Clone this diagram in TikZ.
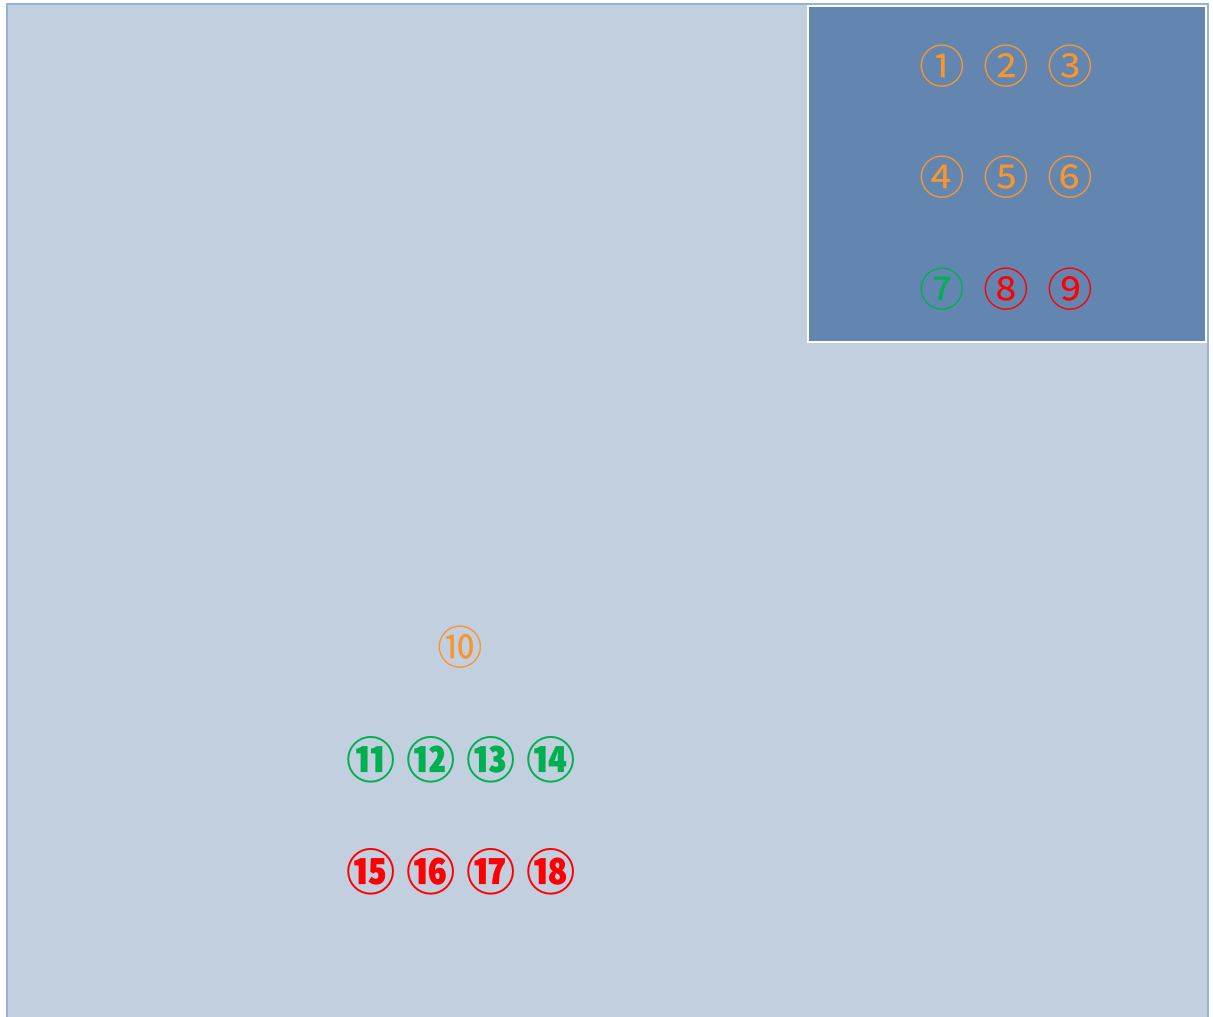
\documentclass[tikz,border=0pt]{standalone}
\usepackage{fontspec}
\newfontfamily\circfont{Noto Sans CJK SC}
\definecolor{panelfill}{HTML}{C2CFDF}
\definecolor{panelline}{HTML}{95B3D7}
\definecolor{insetfill}{HTML}{6386B0}
\definecolor{markorange}{HTML}{F7962F}
\definecolor{markgreen}{HTML}{00B050}
\definecolor{markred}{HTML}{FF0000}
\tikzset{
    panel/.style={
        draw=panelline,
        fill=panelfill,
        line width=1.2pt
    },
    inset/.style={
        draw=white,
        fill=insetfill,
        line width=1pt
    },
    marker/.style={
        inner sep=0pt,
        font=\circfont\fontsize{26}{26}\selectfont
    },
    markerorange/.style={
        marker,
        text=markorange
    },
    markergreen/.style={
        marker,
        text=markgreen
    },
    markerred/.style={
        marker,
        text=markred
    },
    markerbold/.style={
        font=\circfont\bfseries\fontsize{28}{28}\selectfont
    }
}

\begin{document}
\begin{tikzpicture}
        \useasboundingbox (0,0) rectangle (24.26,20.32);
        \path[panel] (0.14,-0.3) rectangle (24.16,20.24);
        \path[inset] (16.16,13.48) rectangle (24.12,20.2);

        \node[markerorange] (n1) at (18.84,19.00) {①};
        \node[markerorange] (n2) at (20.12,19.00) {②};
        \node[markerorange] (n3) at (21.40,19.00) {③};
        \node[markerorange] (n4) at (18.84,16.78) {④};
        \node[markerorange] (n5) at (20.12,16.78) {⑤};
        \node[markerorange] (n6) at (21.40,16.78) {⑥};
        \node[markergreen] (n7) at (18.84,14.54) {⑦};
        \node[markerred] (n8) at (20.12,14.54) {⑧};
        \node[markerred] (n9) at (21.40,14.54) {⑨};

        \node[markerorange] (n10) at (9.20,7.38) {⑩};
        \node[markergreen,markerbold] (n11) at (7.42,5.12) {⑪};
        \node[markergreen,markerbold] (n12) at (8.62,5.12) {⑫};
        \node[markergreen,markerbold] (n13) at (9.82,5.12) {⑬};
        \node[markergreen,markerbold] (n14) at (11.02,5.12) {⑭};
        \node[markerred,markerbold] (n15) at (7.42,2.88) {⑮};
        \node[markerred,markerbold] (n16) at (8.62,2.88) {⑯};
        \node[markerred,markerbold] (n17) at (9.82,2.88) {⑰};
        \node[markerred,markerbold] (n18) at (11.02,2.88) {⑱};
    \end{tikzpicture}
\end{document}
